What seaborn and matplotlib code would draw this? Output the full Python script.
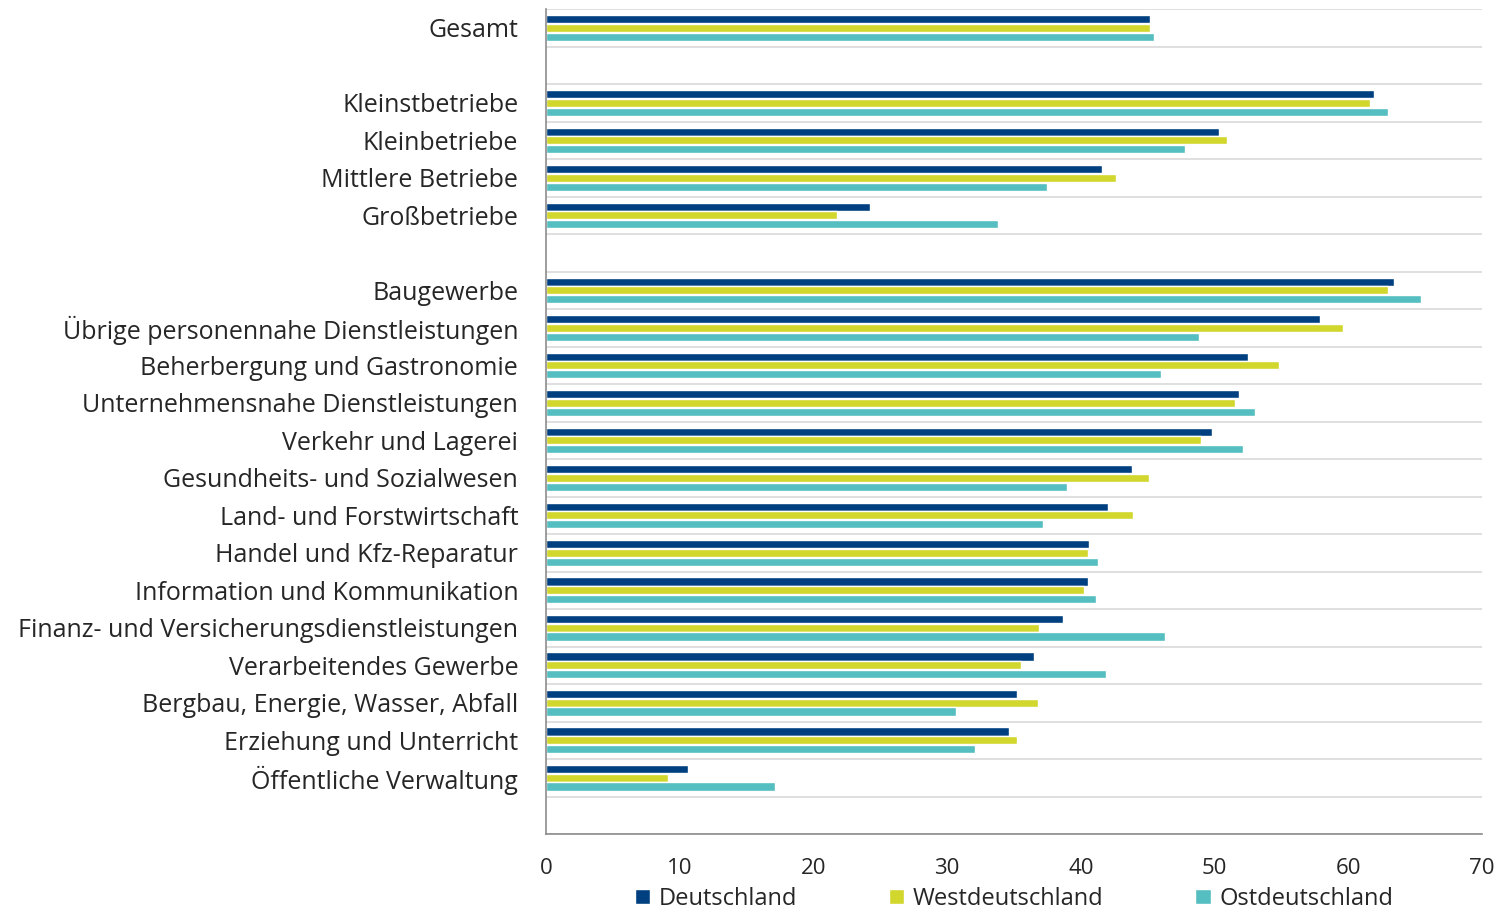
import numpy as np
import pandas as pd
import matplotlib.pyplot as plt
import seaborn as sns
from matplotlib.ticker import MultipleLocator

# rows incl. empty spacer rows (" ", "  ", "   ")
categories = ["Gesamt", " ",
              "Kleinstbetriebe", "Kleinbetriebe", "Mittlere Betriebe", "Großbetriebe", "  ",
              "Baugewerbe", "Übrige personennahe Dienstleistungen", "Beherbergung und Gastronomie",
              "Unternehmensnahe Dienstleistungen", "Verkehr und Lagerei",
              "Gesundheits- und Sozialwesen", "Land- und Forstwirtschaft",
              "Handel und Kfz-Reparatur", "Information und Kommunikation",
              "Finanz- und Versicherungsdienstleistungen", "Verarbeitendes Gewerbe",
              "Bergbau, Energie, Wasser, Abfall", "Erziehung und Unterricht",
              "Öffentliche Verwaltung", "   "]

deutschland = [45.2, np.nan, 61.9, 50.3, 41.6, 24.2, np.nan,
               63.4, 57.9, 52.5, 51.8, 49.8, 43.8, 42.0, 40.6, 40.5, 38.7, 36.5, 35.2, 34.6, 10.6, np.nan]
westdeutschland = [45.2, np.nan, 61.6, 50.9, 42.6, 21.8, np.nan,
                   63.0, 59.6, 54.8, 51.5, 49.0, 45.1, 43.9, 40.5, 40.2, 36.9, 35.5, 36.8, 35.2, 9.1, np.nan]
ostdeutschland = [45.5, np.nan, 63.0, 47.8, 37.5, 33.8, np.nan,
                  65.4, 48.8, 46.0, 53.0, 52.1, 39.0, 37.2, 41.3, 41.1, 46.3, 41.9, 30.7, 32.1, 17.1, np.nan]

series = ["Deutschland", "Westdeutschland", "Ostdeutschland"]
colors = ["#004080", "#D2D72E", "#55BEC0"]

df = pd.DataFrame({
    "Kategorie": categories * 3,
    "Region": np.repeat(series, len(categories)),
    "Wert": deutschland + westdeutschland + ostdeutschland,
})

sns.set_style("white")
plt.rcParams["font.family"] = ["Open Sans", "DejaVu Sans"]

fig, ax = plt.subplots(figsize=(14.99, 9.08), dpi=100)
fig.subplots_adjust(left=0.3642, right=0.9887, top=0.99, bottom=0.0815)

sns.barplot(data=df, x="Wert", y="Kategorie", hue="Region", order=categories,
            hue_order=series, palette=colors, saturation=1, width=0.7, gap=0.08,
            orient="h", ax=ax, legend=True)

ax.set_xlim(0, 70)
ax.set_ylim(len(categories) - 0.5, -0.5)
ax.xaxis.set_major_locator(MultipleLocator(10))
ax.set_yticks(np.arange(len(categories) + 1) - 0.5, minor=True)
ax.grid(which="minor", axis="y", color="#d9d9d9", linewidth=1.2)
ax.grid(which="major", axis="both", visible=False)
ax.set_xlabel("")
ax.set_ylabel("")

for s in ["top", "right"]:
    ax.spines[s].set_visible(False)
for s in ["left", "bottom"]:
    ax.spines[s].set_color("#8c8c8c")
    ax.spines[s].set_linewidth(1.2)

ax.tick_params(axis="y", which="both", length=0, labelsize=18, pad=20)
ax.tick_params(axis="x", length=6, color="#8c8c8c", labelsize=16, pad=11, direction="out")
ax.tick_params(axis="y", which="minor", length=0)

leg = ax.legend(loc="upper center", bbox_to_anchor=(0.5, -0.064), ncol=3, frameon=False,
                fontsize=17, handlelength=0.65, handleheight=0.65, handletextpad=0.35,
                columnspacing=3.9, borderaxespad=0, borderpad=0)

fig.savefig("out.png", dpi=100)
